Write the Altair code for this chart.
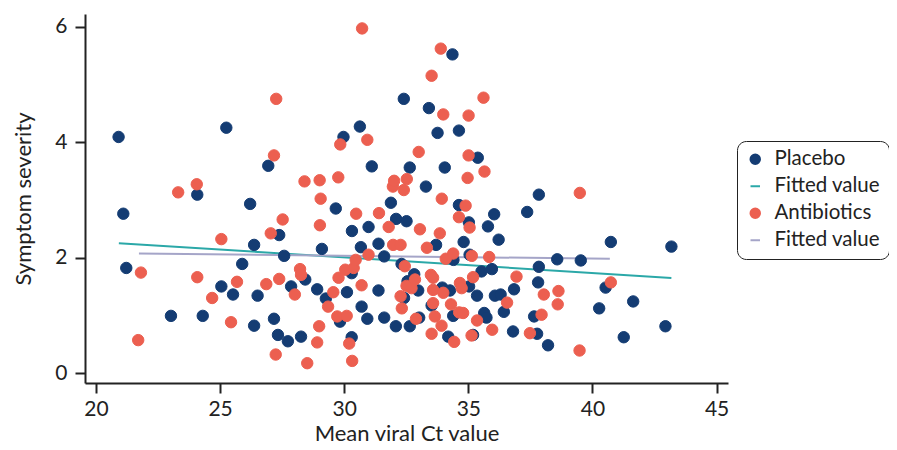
import altair as alt
import pandas as pd

# ---- data ----
placebo_x = [20.91, 21.10, 21.22, 23.02, 24.08, 24.30, 25.25, 25.05, 25.52, 25.89,
             26.21, 26.37, 26.37, 26.51, 26.94, 27.17, 27.33, 27.38, 27.58, 27.73,
             27.86, 28.26, 28.43, 28.91, 29.10, 29.26, 29.66, 29.83, 29.97, 30.11,
             30.30, 30.30, 30.31, 30.63, 30.67, 30.70, 30.93, 30.98, 31.11, 31.38,
             31.38, 31.61, 31.61, 31.88, 32.08, 32.09, 32.31, 32.40, 32.41, 32.51,
             32.55, 32.64, 32.64, 32.82, 32.98, 33.02, 33.29, 33.41, 33.52, 33.70,
             33.76, 33.95, 34.05, 34.19, 34.26, 34.36, 34.39, 34.40, 34.62, 34.62,
             34.81, 35.02, 35.03, 35.05, 35.19, 35.35, 35.38, 35.53, 35.64, 35.73,
             35.79, 35.95, 36.04, 36.07, 36.22, 36.30, 36.43, 36.80, 36.84, 37.37,
             37.65, 37.77, 37.81, 37.84, 37.84, 38.21, 38.58, 39.53, 40.27, 40.53,
             40.74, 41.26, 41.64, 42.94, 43.18]
placebo_y = [4.09, 2.76, 1.82, 0.99, 3.09, 0.99, 4.25, 1.50, 1.36, 1.89,
             2.93, 2.22, 0.82, 1.34, 3.59, 0.94, 0.66, 2.39, 2.03, 0.55,
             1.50, 0.63, 1.62, 1.45, 2.15, 1.29, 2.85, 0.89, 4.09, 1.40,
             1.73, 0.62, 2.46, 4.27, 2.18, 1.15, 0.94, 2.53, 3.58, 2.24,
             1.43, 2.02, 0.96, 2.95, 0.81, 2.67, 1.89, 4.75, 1.30, 2.63,
             1.59, 3.56, 0.81, 1.71, 1.43, 0.96, 3.23, 4.59, 1.17, 2.22,
             4.16, 1.48, 3.56, 0.63, 1.43, 5.52, 0.99, 1.96, 4.20, 2.91,
             2.27, 2.61, 1.50, 2.05, 0.66, 1.34, 3.73, 1.76, 1.04, 0.96,
             2.54, 1.80, 2.75, 1.34, 2.31, 1.36, 1.06, 0.72, 1.45, 2.79,
             0.98, 0.68, 1.57, 3.09, 1.84, 0.48, 1.97, 1.95, 1.12, 1.48,
             2.27, 0.62, 1.24, 0.81, 2.19]

antibiotics_x = [21.70, 21.81, 23.31, 24.06, 24.08, 24.68, 25.05, 25.44, 25.68, 26.86,
                 27.04, 27.17, 27.24, 27.26, 27.38, 27.52, 28.01, 28.40, 28.22, 28.26,
                 28.51, 28.91, 28.99, 29.01, 29.02, 29.05, 29.35, 29.56, 29.72, 29.76,
                 29.77, 29.84, 30.04, 30.10, 30.20, 30.32, 30.38, 30.46, 30.48, 30.70,
                 30.72, 30.93, 30.98, 31.40, 31.79, 31.96, 31.97, 32.01, 32.27, 32.27,
                 32.32, 32.40, 32.44, 32.51, 32.52, 32.71, 32.85, 32.89, 33.00, 33.05,
                 33.33, 33.49, 33.52, 33.52, 33.58, 33.58, 33.58, 33.65, 33.85, 33.89,
                 33.92, 33.93, 33.99, 33.99, 34.09, 34.30, 34.39, 34.43, 34.62, 34.63,
                 34.66, 34.73, 34.79, 34.89, 34.97, 35.01, 35.01, 35.05, 35.13, 35.14,
                 35.19, 35.35, 35.61, 35.65, 35.84, 35.96, 36.56, 36.94, 37.48, 37.95,
                 38.04, 38.60, 38.63, 39.48, 39.49, 40.74]
antibiotics_y = [0.57, 1.74, 3.13, 3.27, 1.66, 1.30, 2.32, 0.88, 1.58, 1.54,
                 2.42, 3.77, 0.32, 4.75, 1.63, 2.66, 1.36, 3.32, 1.80, 1.70,
                 0.17, 0.53, 0.81, 3.34, 2.56, 3.02, 1.15, 1.40, 0.98, 3.39,
                 1.65, 3.96, 1.79, 0.99, 0.51, 0.21, 1.82, 1.96, 2.76, 1.52,
                 5.97, 4.04, 2.05, 2.77, 2.53, 3.23, 2.22, 3.33, 2.22, 1.33,
                 1.12, 3.17, 1.85, 1.51, 3.36, 1.47, 1.62, 0.94, 3.83, 2.49,
                 2.17, 1.70, 5.15, 0.68, 1.65, 1.44, 1.21, 0.98, 2.42, 5.62,
                 0.82, 3.02, 4.48, 1.39, 1.98, 1.19, 2.07, 0.54, 2.70, 1.05,
                 1.56, 1.47, 1.04, 2.90, 3.38, 4.46, 3.77, 2.52, 0.65, 2.03,
                 1.66, 0.91, 4.77, 3.49, 2.01, 0.75, 1.22, 1.67, 0.69, 1.01,
                 1.36, 1.19, 1.42, 0.39, 3.12, 1.57]

fit_placebo_x = [20.92, 43.18]
fit_placebo_y = [2.25, 1.645]
fit_antibiotics_x = [21.73, 40.70]
fit_antibiotics_y = [2.07, 1.98]

series_keys = ["Placebo", "Fit P", "Antibiotics", "Fit A"]
series_colors = ["#143C73", "#2BA8A8", "#EC5F50", "#A5A5C8"]
series_shapes = ["circle", "stroke", "circle", "stroke"]

x_ticks = [20, 25, 30, 35, 40, 45]
y_ticks = [0, 2, 4, 6]

# ---- tables ----
pts = pd.concat([
    pd.DataFrame({"x": placebo_x, "y": placebo_y, "series": "Placebo"}),
    pd.DataFrame({"x": antibiotics_x, "y": antibiotics_y, "series": "Antibiotics"}),
], ignore_index=True)
pts["idx"] = range(len(pts))

fits = pd.concat([
    pd.DataFrame({"x": fit_placebo_x, "y": fit_placebo_y, "series": "Fit P"}),
    pd.DataFrame({"x": fit_antibiotics_x, "y": fit_antibiotics_y, "series": "Fit A"}),
], ignore_index=True)

FONT = "Lato"
TXT = "#222222"

legend = alt.Legend(
    orient="none", legendX=652, legendY=127,
    strokeColor="#222222", cornerRadius=9, fillColor="white", padding=8,
    labelFont=FONT, labelFontSize=20.5, labelColor=TXT,
    labelExpr="datum.label == 'Placebo' || datum.label == 'Antibiotics' ? datum.label : 'Fitted value'",
    symbolSize=90, symbolStrokeWidth=2, rowPadding=6, labelOffset=9, symbolOffset=0,
)

xscale = alt.Scale(domain=[19.557, 45.46], nice=False, zero=False)
yscale = alt.Scale(domain=[-0.173, 6.22], nice=False, zero=False)

xaxis = alt.Axis(values=x_ticks, title="Mean viral Ct value", grid=False,
                 labelPadding=5, titlePadding=4)
yaxis = alt.Axis(values=y_ticks, title="Symptom severity", grid=False,
                 labelPadding=8, titlePadding=19)

fill_scale = alt.Scale(domain=series_keys, range=series_colors)
stroke_scale = alt.Scale(domain=series_keys, range=series_colors)
shape_scale = alt.Scale(domain=series_keys, range=series_shapes)

lines = alt.Chart(fits).mark_line(strokeWidth=2).encode(
    x=alt.X("x:Q", scale=xscale, axis=xaxis),
    y=alt.Y("y:Q", scale=yscale, axis=yaxis),
    stroke=alt.Stroke("series:N", scale=stroke_scale, legend=legend, title=None),
    detail="series:N",
)

points = alt.Chart(pts).mark_point(filled=True, size=130, strokeWidth=1, opacity=1).encode(
    x=alt.X("x:Q", scale=xscale, axis=xaxis),
    y=alt.Y("y:Q", scale=yscale, axis=yaxis),
    fill=alt.Fill("series:N", scale=fill_scale, legend=legend, title=None),
    stroke=alt.Stroke("series:N", scale=stroke_scale, legend=legend, title=None),
    shape=alt.Shape("series:N", scale=shape_scale, legend=legend, title=None),
    order=alt.Order("idx:Q"),
)

chart = alt.layer(lines, points).properties(
    width=643, height=369,
    autosize=alt.AutoSizeParams(type="none"),
    padding={"left": 77, "top": 6, "right": 161, "bottom": 61},
    background="white",
).configure(font=FONT).configure_view(strokeWidth=0).configure_axis(
    domainColor=TXT, domainWidth=2, tickColor=TXT, tickWidth=2, tickSize=10,
    labelFont=FONT, labelFontSize=21, labelColor=TXT,
    titleFont=FONT, titleFontSize=22, titleColor=TXT, titleFontWeight="normal",
)

chart.save("out.html", embed_options={"renderer": "svg", "actions": False})
